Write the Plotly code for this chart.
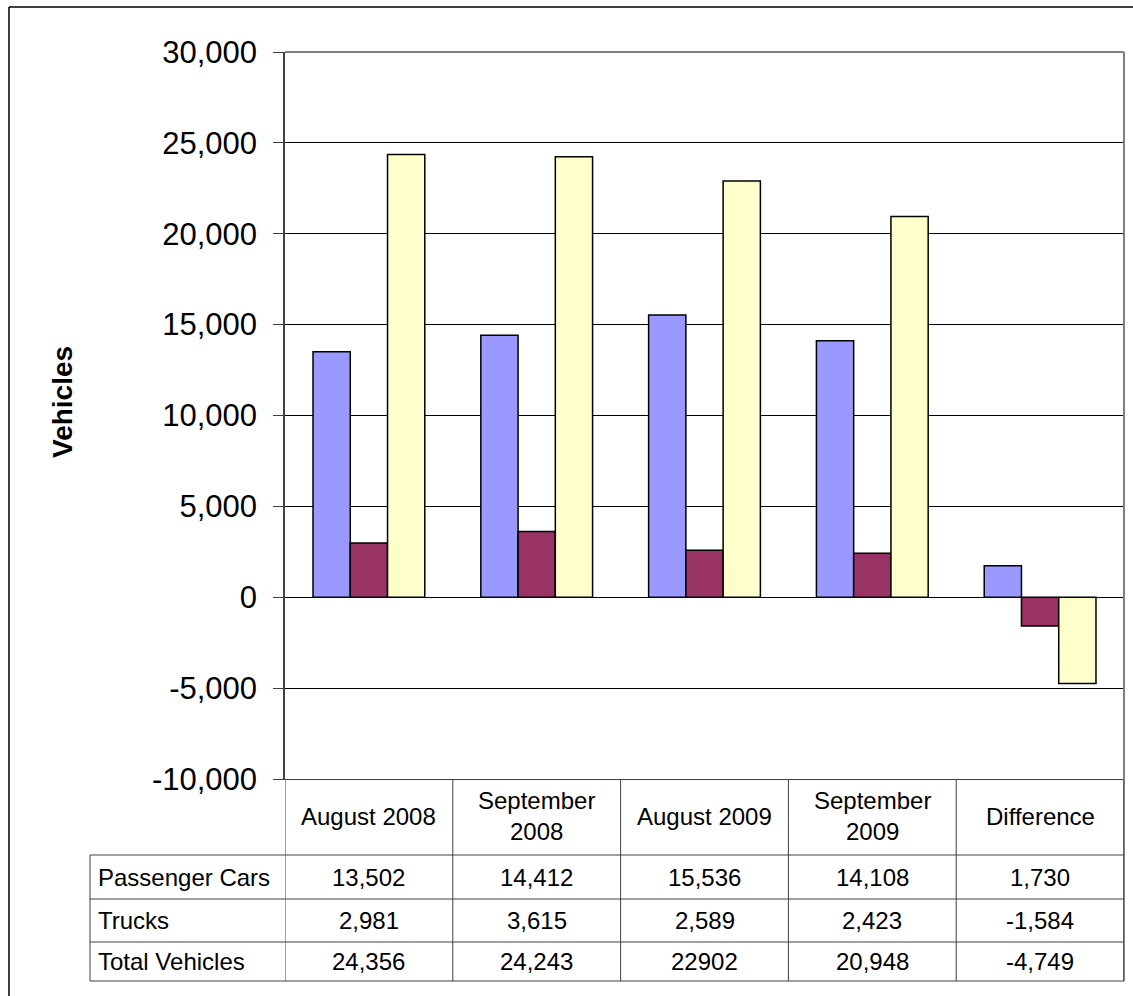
import plotly.graph_objects as go

# ---- data (as listed in the data table) ----
categories = ["August 2008", "September 2008", "August 2009", "September 2009", "Difference"]
header_labels = ["August 2008", "September<br>2008", "August 2009", "September<br>2009", "Difference"]
series_names = ["Passenger Cars", "Trucks", "Total Vehicles"]
passenger_cars = ["13,502", "14,412", "15,536", "14,108", "1,730"]
trucks = ["2,981", "3,615", "2,589", "2,423", "-1,584"]
total_vehicles = ["24,356", "24,243", "22902", "20,948", "-4,749"]
y_ticks = [-10000, -5000, 0, 5000, 10000, 15000, 20000, 25000, 30000]

series_text = [passenger_cars, trucks, total_vehicles]
series_values = [[int(s.replace(",", "")) for s in row] for row in series_text]
colors = ["#9999FF", "#993366", "#FFFFCC"]

FONT = "Arial, 'Liberation Sans', sans-serif"
W, H = 1133, 996
L, R, T, B = 285, 9, 52, 217
PW, PH = W - L - R, H - T - B
TABLE_FONT = 24


def px(X):
    """pixel x -> paper x"""
    return (X - L) / PW


def py(Y):
    """pixel y -> paper y"""
    return (H - B - Y) / PH


fig = go.Figure()
for name, vals, col in zip(series_names, series_values, colors):
    fig.add_trace(go.Bar(
        x=categories, y=vals, name=name,
        marker=dict(color=col, line=dict(color="black", width=1.5)),
    ))

fig.update_layout(
    width=W, height=H,
    margin=dict(l=L, r=R, t=T, b=B, pad=0),
    paper_bgcolor="white", plot_bgcolor="white",
    barmode="group", bargap=0.334, bargroupgap=0,
    showlegend=False,
    font=dict(family=FONT, color="black"),
)
fig.update_xaxes(
    range=[-0.5, 4.5], showticklabels=False, ticks="", showgrid=False,
    showline=True, linecolor="#404040", linewidth=1, zeroline=False,
)
fig.update_yaxes(
    range=[-10000, 30000], tickvals=y_ticks,
    ticktext=[f"{v:,}" for v in y_ticks],
    tickfont=dict(size=31, family=FONT, color="black"),
    showgrid=True, gridcolor="black", gridwidth=1,
    zeroline=True, zerolinecolor="black", zerolinewidth=1,
    showline=True, linecolor="#404040", linewidth=1.5,
    ticks="outside", ticklen=10, tickcolor="#404040", tickwidth=1,
    ticklabelstandoff=10,
)

shapes = []
# plot area frame (top / right)
shapes.append(dict(type="line", xref="paper", yref="paper", x0=0, x1=1, y0=1, y1=1,
                   line=dict(color="#808080", width=2)))
shapes.append(dict(type="line", xref="paper", yref="paper", x0=1, x1=1, y0=1, y1=py(981),
                   line=dict(color="#808080", width=2)))
# chart outer frame
shapes.append(dict(type="line", xref="paper", yref="paper", x0=px(9), x1=px(9), y0=py(7), y1=py(1010),
                   line=dict(color="black", width=1.5)))
shapes.append(dict(type="line", xref="paper", yref="paper", x0=px(9), x1=px(1145), y0=py(7), y1=py(7),
                   line=dict(color="black", width=1.5)))

# data table grid
grid = dict(color="#404040", width=1)
for i in range(len(categories) + 1):
    shapes.append(dict(type="line", xref="x", yref="paper", x0=i - 0.5, x1=i - 0.5,
                       y0=0, y1=py(981), line=grid))
shapes.append(dict(type="line", xref="paper", yref="paper", x0=px(90), x1=px(90),
                   y0=py(855), y1=py(981), line=grid))
row_edges = [855, 899, 942, 981]
for Y in row_edges:
    shapes.append(dict(type="line", xref="paper", yref="paper", x0=px(90), x1=1,
                       y0=py(Y), y1=py(Y), line=grid))

annotations = []
for i, lab in enumerate(header_labels):
    annotations.append(dict(x=i, y=py(816), xref="x", yref="paper", text=lab, showarrow=False,
                            xanchor="center", yanchor="middle",
                            font=dict(size=TABLE_FONT, family=FONT, color="black")))
row_centers = [(row_edges[k] + row_edges[k + 1]) / 2 for k in range(3)]
for name, texts, yc in zip(series_names, series_text, row_centers):
    annotations.append(dict(x=px(96), y=py(yc), xref="paper", yref="paper", text=name,
                            showarrow=False, xanchor="left", yanchor="middle",
                            font=dict(size=TABLE_FONT, family=FONT, color="black")))
    for i, t in enumerate(texts):
        annotations.append(dict(x=i, y=py(yc), xref="x", yref="paper", text=t, showarrow=False,
                                xanchor="center", yanchor="middle",
                                font=dict(size=TABLE_FONT, family=FONT, color="black")))
# axis title
annotations.append(dict(x=px(62), y=py(402), xref="paper", yref="paper", text="<b>Vehicles</b>",
                        textangle=-90, showarrow=False, xanchor="center", yanchor="middle",
                        font=dict(size=28, family=FONT, color="black")))

fig.update_layout(shapes=shapes, annotations=annotations)
fig.write_html("out.html")
